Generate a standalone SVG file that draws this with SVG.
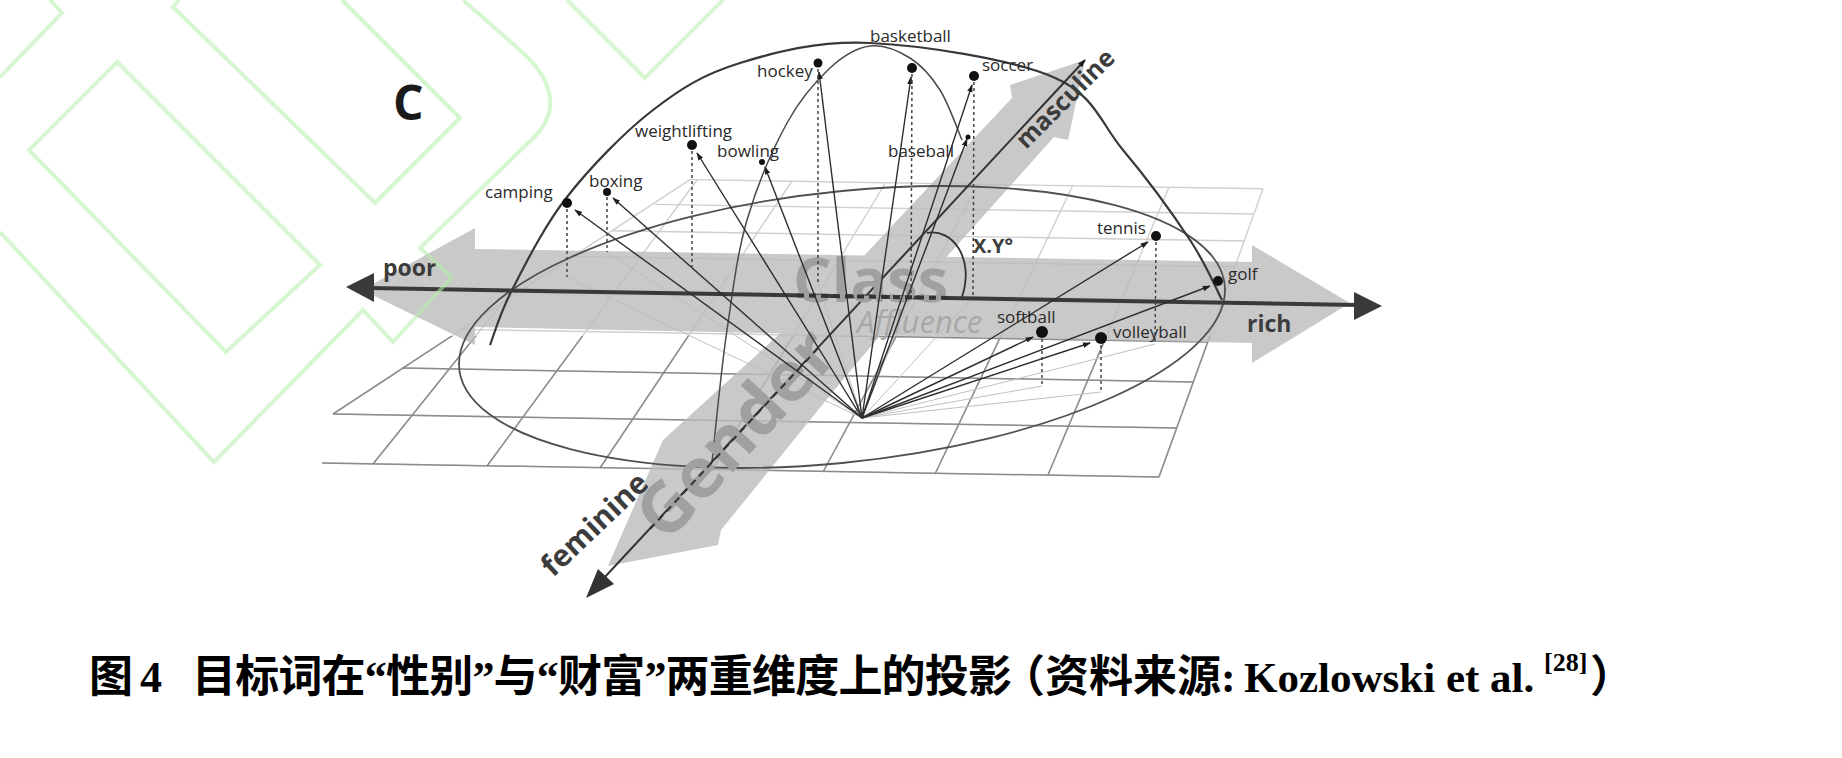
<svg xmlns="http://www.w3.org/2000/svg" width="1842" height="758" viewBox="0 0 1842 758">
<defs>
<style>
.wm{fill:none;stroke:#b4f0aa;stroke-width:4;opacity:0.55}
.fan{stroke:#c0c0c0;stroke-width:1;fill:none}
.vec{stroke:#2e2e2e;stroke-width:1.4;fill:none;marker-end:url(#ah)}
.drop{stroke:#444;stroke-width:1.5;stroke-dasharray:3 3;fill:none}
.dot{fill:#111}
.lbl{font-family:'Open Sans','DejaVu Sans',sans-serif;font-size:17px;fill:#2a2a2a}
.axl{font-family:'Open Sans','DejaVu Sans',sans-serif;font-weight:bold;fill:#3c3c3c}
.big{font-family:'Open Sans','DejaVu Sans',sans-serif;font-weight:bold;fill:#a0a0a0}
.cap{font-weight:bold;font-size:44px;fill:#000}
.cjk{font-family:'Noto Sans CJK SC',sans-serif}
.ser{font-family:'Liberation Serif','Noto Sans CJK SC',serif}
</style>
<marker id="ah" viewBox="0 0 10 10" refX="9" refY="5" markerWidth="8" markerHeight="8" markerUnits="userSpaceOnUse" orient="auto"><path d="M0,1.5 L10,5 L0,8.5 z" fill="#1e1e1e"/></marker>
<clipPath id="lower"><rect x="0" y="336" width="1842" height="200"/></clipPath>
<g id="gridlines" fill="none">
<line x1="690" y1="179.6" x2="1263" y2="188.8"/>
<line x1="655" y1="204.4" x2="1254" y2="214"/>
<line x1="613" y1="230.8" x2="1244" y2="241"/>
<line x1="573" y1="256.5" x2="1235" y2="266.6"/>
<line x1="523" y1="289.2" x2="1222" y2="301"/>
<line x1="462" y1="329.4" x2="1208" y2="342"/>
<line x1="402" y1="368" x2="1193" y2="382"/>
<line x1="333" y1="414" x2="1177" y2="428"/>
<line x1="322" y1="463" x2="1159" y2="477"/>
<line x1="333" y1="414" x2="690" y2="179.6"/>
<line x1="373" y1="464" x2="503" y2="302"/>
<line x1="487" y1="466" x2="697" y2="180"/>
<line x1="600" y1="468" x2="792" y2="181"/>
<line x1="712" y1="470" x2="886" y2="182"/>
<line x1="823" y1="472" x2="979" y2="183"/>
<line x1="935" y1="474" x2="1073" y2="185"/>
<line x1="1048" y1="475" x2="1169" y2="187"/>
<line x1="1159" y1="477" x2="1263" y2="188.8"/>
</g>
</defs>
<rect width="1842" height="758" fill="#fff"/>

<g id="grid">
<use href="#gridlines" stroke="#cfcfcf" stroke-width="1.4"/>
<use href="#gridlines" stroke="#8c8c8c" stroke-width="1.5" clip-path="url(#lower)"/>
</g>

<g id="projections">
<line class="fan" x1="862" y1="418" x2="567" y2="277"/>
<line class="fan" x1="862" y1="418" x2="607" y2="252"/>
<line class="fan" x1="862" y1="418" x2="692" y2="270"/>
<line class="fan" x1="862" y1="418" x2="818" y2="283"/>
<line class="fan" x1="862" y1="418" x2="911" y2="295"/>
<line class="fan" x1="862" y1="418" x2="973" y2="297"/>
<line class="fan" x1="862" y1="418" x2="1155" y2="344"/>
<line class="fan" x1="862" y1="418" x2="1042" y2="386"/>
<line class="fan" x1="862" y1="418" x2="1101" y2="392"/>
</g>

<g id="bands" opacity="0.8" fill="#bcbcbc">
<polygon id="class-band" points="362,290 475,228 475,249 1252,262 1252,245 1350,303 1252,363 1252,343 475,327 475,345"/>
<polygon id="gender-band" points="608,566 663,440 762,350 860,260 1012,98 1010,85 1085,60 1068,140 1054,137 950,253 840,383 721,530 718,545"/>
</g>

<g id="sphere" fill="none">
<path d="M1225,290 C1225,365.1 1053.5,442.6 842,463 C630.5,483.4 459,439.1 459,364 C459,288.9 630.5,211.4 842,191 C1053.5,170.6 1225,214.9 1225,290 Z" stroke="#505050" stroke-width="1.8"/>
<path d="M490,345 C493.7,335.8 499.2,314.7 512,290 C524.8,265.3 543.5,227 567,197 C590.5,167 624.2,132.3 653,110 C681.8,87.7 703.8,74.2 740,63 C776.2,51.8 817.8,40.7 870,43 C922.2,45.3 1010.8,59.2 1053,77 C1095.2,94.8 1100.2,122.8 1123,150 C1145.8,177.2 1173.5,215 1190,240 C1206.5,265 1216.7,290 1222,300" stroke="#383838" stroke-width="2.2"/>
<path d="M712,462 C714.5,440 721,370 727,330 C733,290 737,254.5 747,220 C757,185.5 773.2,148.3 787,123 C800.8,97.7 816.2,80.8 830,68 C843.8,55.2 856.7,47.7 870,46 C883.3,44.3 898.3,50.7 910,58 C921.7,65.3 931.3,76.3 940,90 C948.7,103.7 958.3,131.7 962,140" stroke="#4a4a4a" stroke-width="1.5"/>
</g>

<g id="axes">
<line x1="370" y1="288" x2="1357" y2="305" stroke="#3a3a3a" stroke-width="4"/>
<polygon points="346,287 374,273 374,302" fill="#3a3a3a"/>
<polygon points="1382,306 1354,292 1354,320" fill="#3a3a3a"/>
<line x1="604" y1="578" x2="1085" y2="60" stroke="#333" stroke-width="2" marker-end="url(#ah)"/>
<polygon points="586,598 614,584 598,569" fill="#333"/>
</g>

<g id="big-labels">
<text class="big" x="793" y="302" font-size="61">Class</text>
<text x="857" y="333" font-family="'Open Sans','DejaVu Sans',sans-serif" font-style="italic" font-size="31" fill="#a8a8a8">Affluence</text>
<text class="big" font-size="70" text-anchor="middle" transform="translate(753.4,450) rotate(-47.15)">Gender</text>
</g>

<g id="axis-dashes" stroke="#333" fill="none">
<line x1="797" y1="295.4" x2="950" y2="298" stroke-width="4" stroke-dasharray="7 5"/>
<line x1="650" y1="529" x2="820" y2="346" stroke-width="2" stroke-dasharray="7 5"/>
</g>

<g id="connectors">
<line class="vec" x1="862" y1="418" x2="575" y2="210"/>
<line class="vec" x1="862" y1="418" x2="613" y2="198"/>
<line class="vec" x1="862" y1="418" x2="697" y2="153"/>
<line class="vec" x1="862" y1="418" x2="765" y2="167"/>
<line class="vec" x1="862" y1="418" x2="819" y2="72"/>
<line class="vec" x1="862" y1="418" x2="911" y2="77"/>
<line class="vec" x1="862" y1="418" x2="967" y2="139"/>
<line class="vec" x1="862" y1="418" x2="972" y2="85"/>
<line class="vec" x1="862" y1="418" x2="1148" y2="242"/>
<line class="vec" x1="862" y1="418" x2="1210" y2="286"/>
<line class="vec" x1="862" y1="418" x2="1033" y2="337"/>
<line class="vec" x1="862" y1="418" x2="1090" y2="343"/>
<line class="drop" x1="567" y1="209" x2="567" y2="277"/>
<line class="drop" x1="607" y1="197" x2="607" y2="252"/>
<line class="drop" x1="692" y1="151" x2="692" y2="270"/>
<line class="drop" x1="818" y1="69" x2="818" y2="283"/>
<line class="drop" x1="912" y1="74" x2="911" y2="295"/>
<line class="drop" x1="974" y1="82" x2="973" y2="297"/>
<line class="drop" x1="1156" y1="242" x2="1155" y2="344"/>
<line class="drop" x1="1042" y1="339" x2="1042" y2="386"/>
<line class="drop" x1="1101" y1="345" x2="1101" y2="392"/>
<path d="M927,233 C952,228 975,258 962,297" fill="none" stroke="#333" stroke-width="1.8"/>
</g>

<g id="basketball"><circle class="dot" cx="912" cy="68" r="5"/><text class="lbl" x="870" y="42">basketball</text></g>
<g id="hockey"><circle class="dot" cx="818" cy="63" r="4.5"/><text class="lbl" x="757" y="77">hockey</text></g>
<g id="soccer"><circle class="dot" cx="974" cy="76" r="5"/><text class="lbl" x="982" y="71">soccer</text></g>
<g id="baseball"><circle class="dot" cx="968" cy="137" r="2.5"/><text class="lbl" x="888" y="157">baseball</text></g>
<g id="bowling"><circle class="dot" cx="762" cy="162" r="3"/><text class="lbl" x="717" y="157">bowling</text></g>
<g id="weightlifting"><circle class="dot" cx="692" cy="145" r="5"/><text class="lbl" x="635" y="137">weightlifting</text></g>
<g id="camping"><circle class="dot" cx="567" cy="203" r="5"/><text class="lbl" x="485" y="198">camping</text></g>
<g id="boxing"><circle class="dot" cx="607" cy="192" r="4"/><text class="lbl" x="589" y="187">boxing</text></g>
<g id="tennis"><circle class="dot" cx="1156" cy="236" r="5"/><text class="lbl" x="1097" y="234">tennis</text></g>
<g id="golf"><circle class="dot" cx="1218" cy="281" r="5"/><text class="lbl" x="1228" y="280">golf</text></g>
<g id="softball"><circle class="dot" cx="1042" cy="332" r="6"/><text class="lbl" x="997" y="323">softball</text></g>
<g id="volleyball"><circle class="dot" cx="1101" cy="338" r="6"/><text class="lbl" x="1113" y="338">volleyball</text></g>

<g id="axis-labels">
<text class="axl" x="383" y="276" font-size="23">poor</text>
<text class="axl" x="1247" y="332" font-size="23">rich</text>
<text class="axl" font-size="25" transform="translate(1026,150) rotate(-45)">masculine</text>
<text class="axl" font-size="30" transform="translate(553,578) rotate(-43.5)">feminine</text>
<text class="axl" x="973" y="253" font-size="20" fill="#222">X.Y°</text>
<text x="393" y="120" font-family="'Open Sans','DejaVu Sans',sans-serif" font-weight="bold" font-size="48" fill="#1a1a1a">C</text>
</g>

<g id="watermark" class="wm">
<path d="M50,0 L62,13 L0,77"/>
<path d="M179,0 L173,7 L375,203 L460,118 L342,0"/>
<path d="M117,62 L320,265 L226,352 L29,150 Z"/>
<path d="M567,0 L645,78 L723,0"/>
<path d="M463,0 L522,52 Q553,80 550,108 Q547,127 527,144 L420,248 L452,277 L393,342 L363,310 L214,462 L0,232"/>
</g>

<g id="caption" class="cap">
<text class="cjk" x="89" y="692">图</text>
<text class="ser" x="140" y="692">4</text>
<text class="ser" x="192" y="692" letter-spacing="-0.8">目标词在“性别”与“财富”两重维度上的投影</text>
<text class="ser" x="1001" y="692">（资料来源:</text>
<text class="ser" x="1244" y="692" font-size="43">Kozlowski et al.</text>
<text class="ser" x="1544" y="671" font-size="26">[28]</text>
<text class="cjk" x="1590" y="692">）</text>
</g>
</svg>
